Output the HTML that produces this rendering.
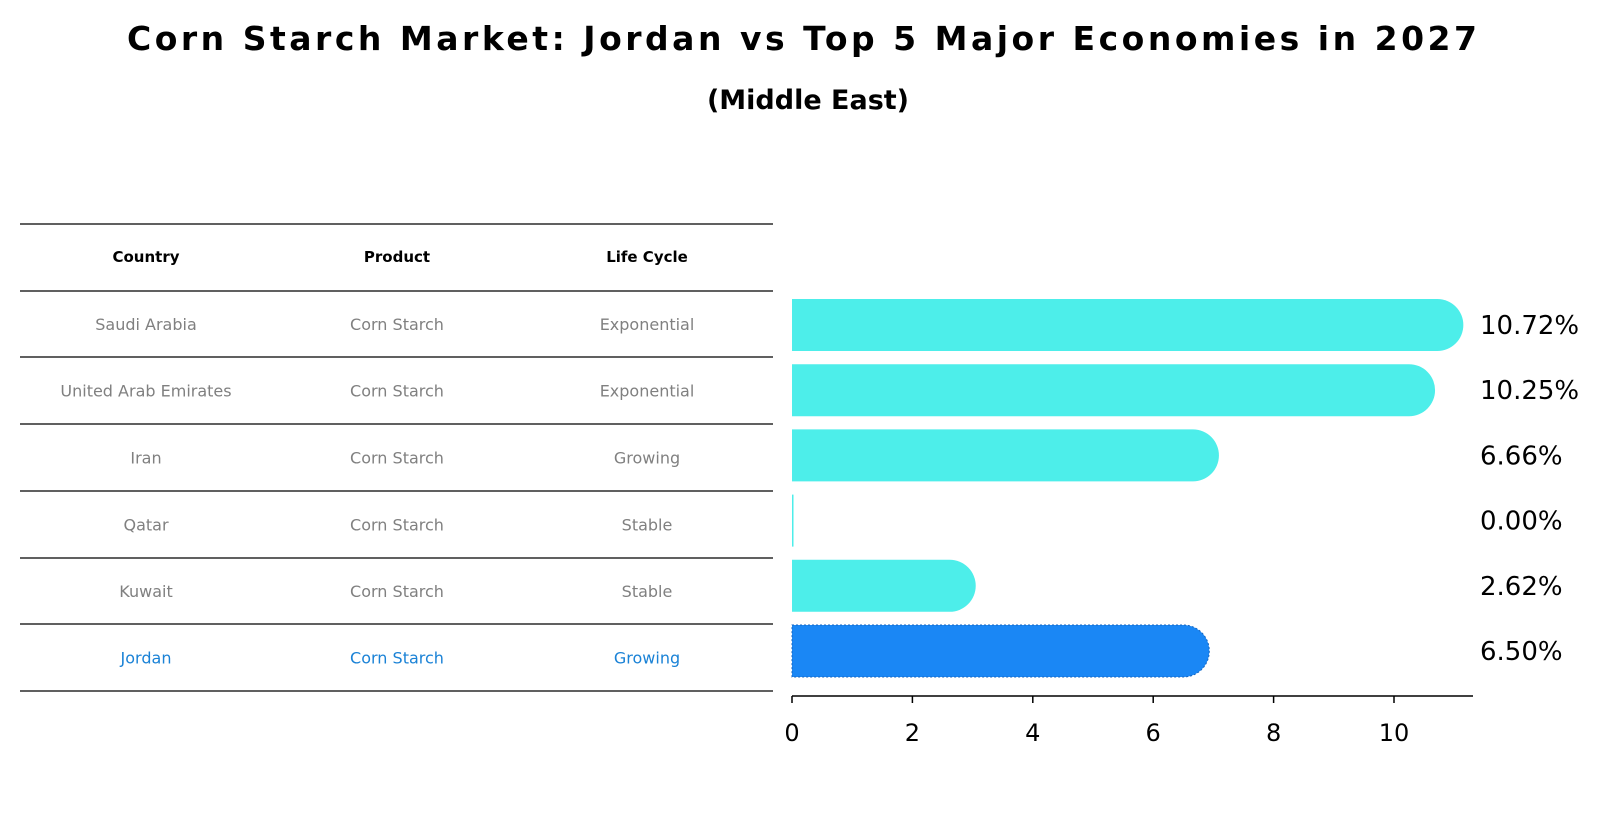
<!DOCTYPE html>
<html><head><meta charset="utf-8">
<style>
html,body{margin:0;padding:0;background:#fff;}
svg{display:block;font-family:"DejaVu Sans","Liberation Sans",sans-serif;}
</style></head>
<body>
<svg id="chart" width="1604" height="823" viewBox="0 0 1604 823">
<text x="802" y="50" text-anchor="middle" font-size="33" font-weight="bold" textLength="1350">Corn Starch Market: Jordan vs Top 5 Major Economies in 2027</text>
<text x="808" y="109" text-anchor="middle" font-size="27" font-weight="bold">(Middle East)</text>
<g id="table"></g>
<g id="bars"></g>
</svg>
<script>
const countries = ["Saudi Arabia","United Arab Emirates","Iran","Qatar","Kuwait","Jordan"];
const products = ["Corn Starch","Corn Starch","Corn Starch","Corn Starch","Corn Starch","Corn Starch"];
const lifeCycles = ["Exponential","Exponential","Growing","Stable","Stable","Growing"];
const values = [10.72,10.25,6.66,0.00,2.62,6.50];
const valueLabels = ["10.72%","10.25%","6.66%","0.00%","2.62%","6.50%"];
const xTicks = [0,2,4,6,8,10];

const NS="http://www.w3.org/2000/svg";
function mk(tag,attrs,parent,text){const e=document.createElementNS(NS,tag);for(const k in attrs)e.setAttribute(k,attrs[k]);if(text!==undefined)e.textContent=text;parent.appendChild(e);return e;}

// table
const tbl=document.getElementById('table');
const lineYs=[224,291,357,424,491,558,624,691];
lineYs.forEach((y,i)=>{const l=mk('line',{x1:20,x2:773,y1:y,y2:y,stroke:'#000','stroke-width':1.2},tbl);

});
const colX=[146,397,647];
["Country","Product","Life Cycle"].forEach((h,i)=>{const t=mk('text',{x:colX[i],y:262,'text-anchor':'middle','font-size':15,'font-weight':'bold'},tbl,h);

});
countries.forEach((c,i)=>{
  const y=(lineYs[i+1]+lineYs[i+2])/2+6;
  const col=c==="Jordan"?'#1a82d6':'#808080';
  [c,products[i],lifeCycles[i]].forEach((v,j)=>{
    const t=mk('text',{x:colX[j],y:y,'text-anchor':'middle','font-size':16,fill:col},tbl,v);
    
    
  });
});

// bars
const g=document.getElementById('bars');
const x0=792, pxPerUnit=60.2;
const xs=v=>x0+v*pxPerUnit;
const rowY=i=>325+i*65.2;
const bh=52, r=26;
values.forEach((v,i)=>{
  const cy=rowY(i), top=cy-bh/2, xe=xs(v);
  const isJ=countries[i]==="Jordan";
  const fill=isJ?'#1a87f5':'#4deeea';
  let d;
  if(v<=0){d=`M${x0},${top}h1.5v${bh}h-1.5z`;}
  else d=`M${x0},${top}H${xe}A${r},${r} 0 0 1 ${xe},${top+bh}H${x0}Z`;
  const p=mk('path',{d:d,fill:fill},g);
  if(isJ){p.setAttribute('stroke','#1565c0');p.setAttribute('stroke-width','1');p.setAttribute('stroke-dasharray','2 2');}
  
  
  const t=mk('text',{x:1480,y:cy+9,'font-size':26},g,valueLabels[i]);
  
  
});
// x axis
const ax=mk('line',{x1:x0,x2:1473,y1:696,y2:696,stroke:'#000','stroke-width':1.5},g);


xTicks.forEach(v=>{
  const tk=mk('line',{x1:xs(v),x2:xs(v),y1:696,y2:703,stroke:'#000','stroke-width':1.5},g);
  
  
  const tl=mk('text',{x:xs(v),y:741,'text-anchor':'middle','font-size':24},g,String(v));
  
  
});
</script>
</body></html>
